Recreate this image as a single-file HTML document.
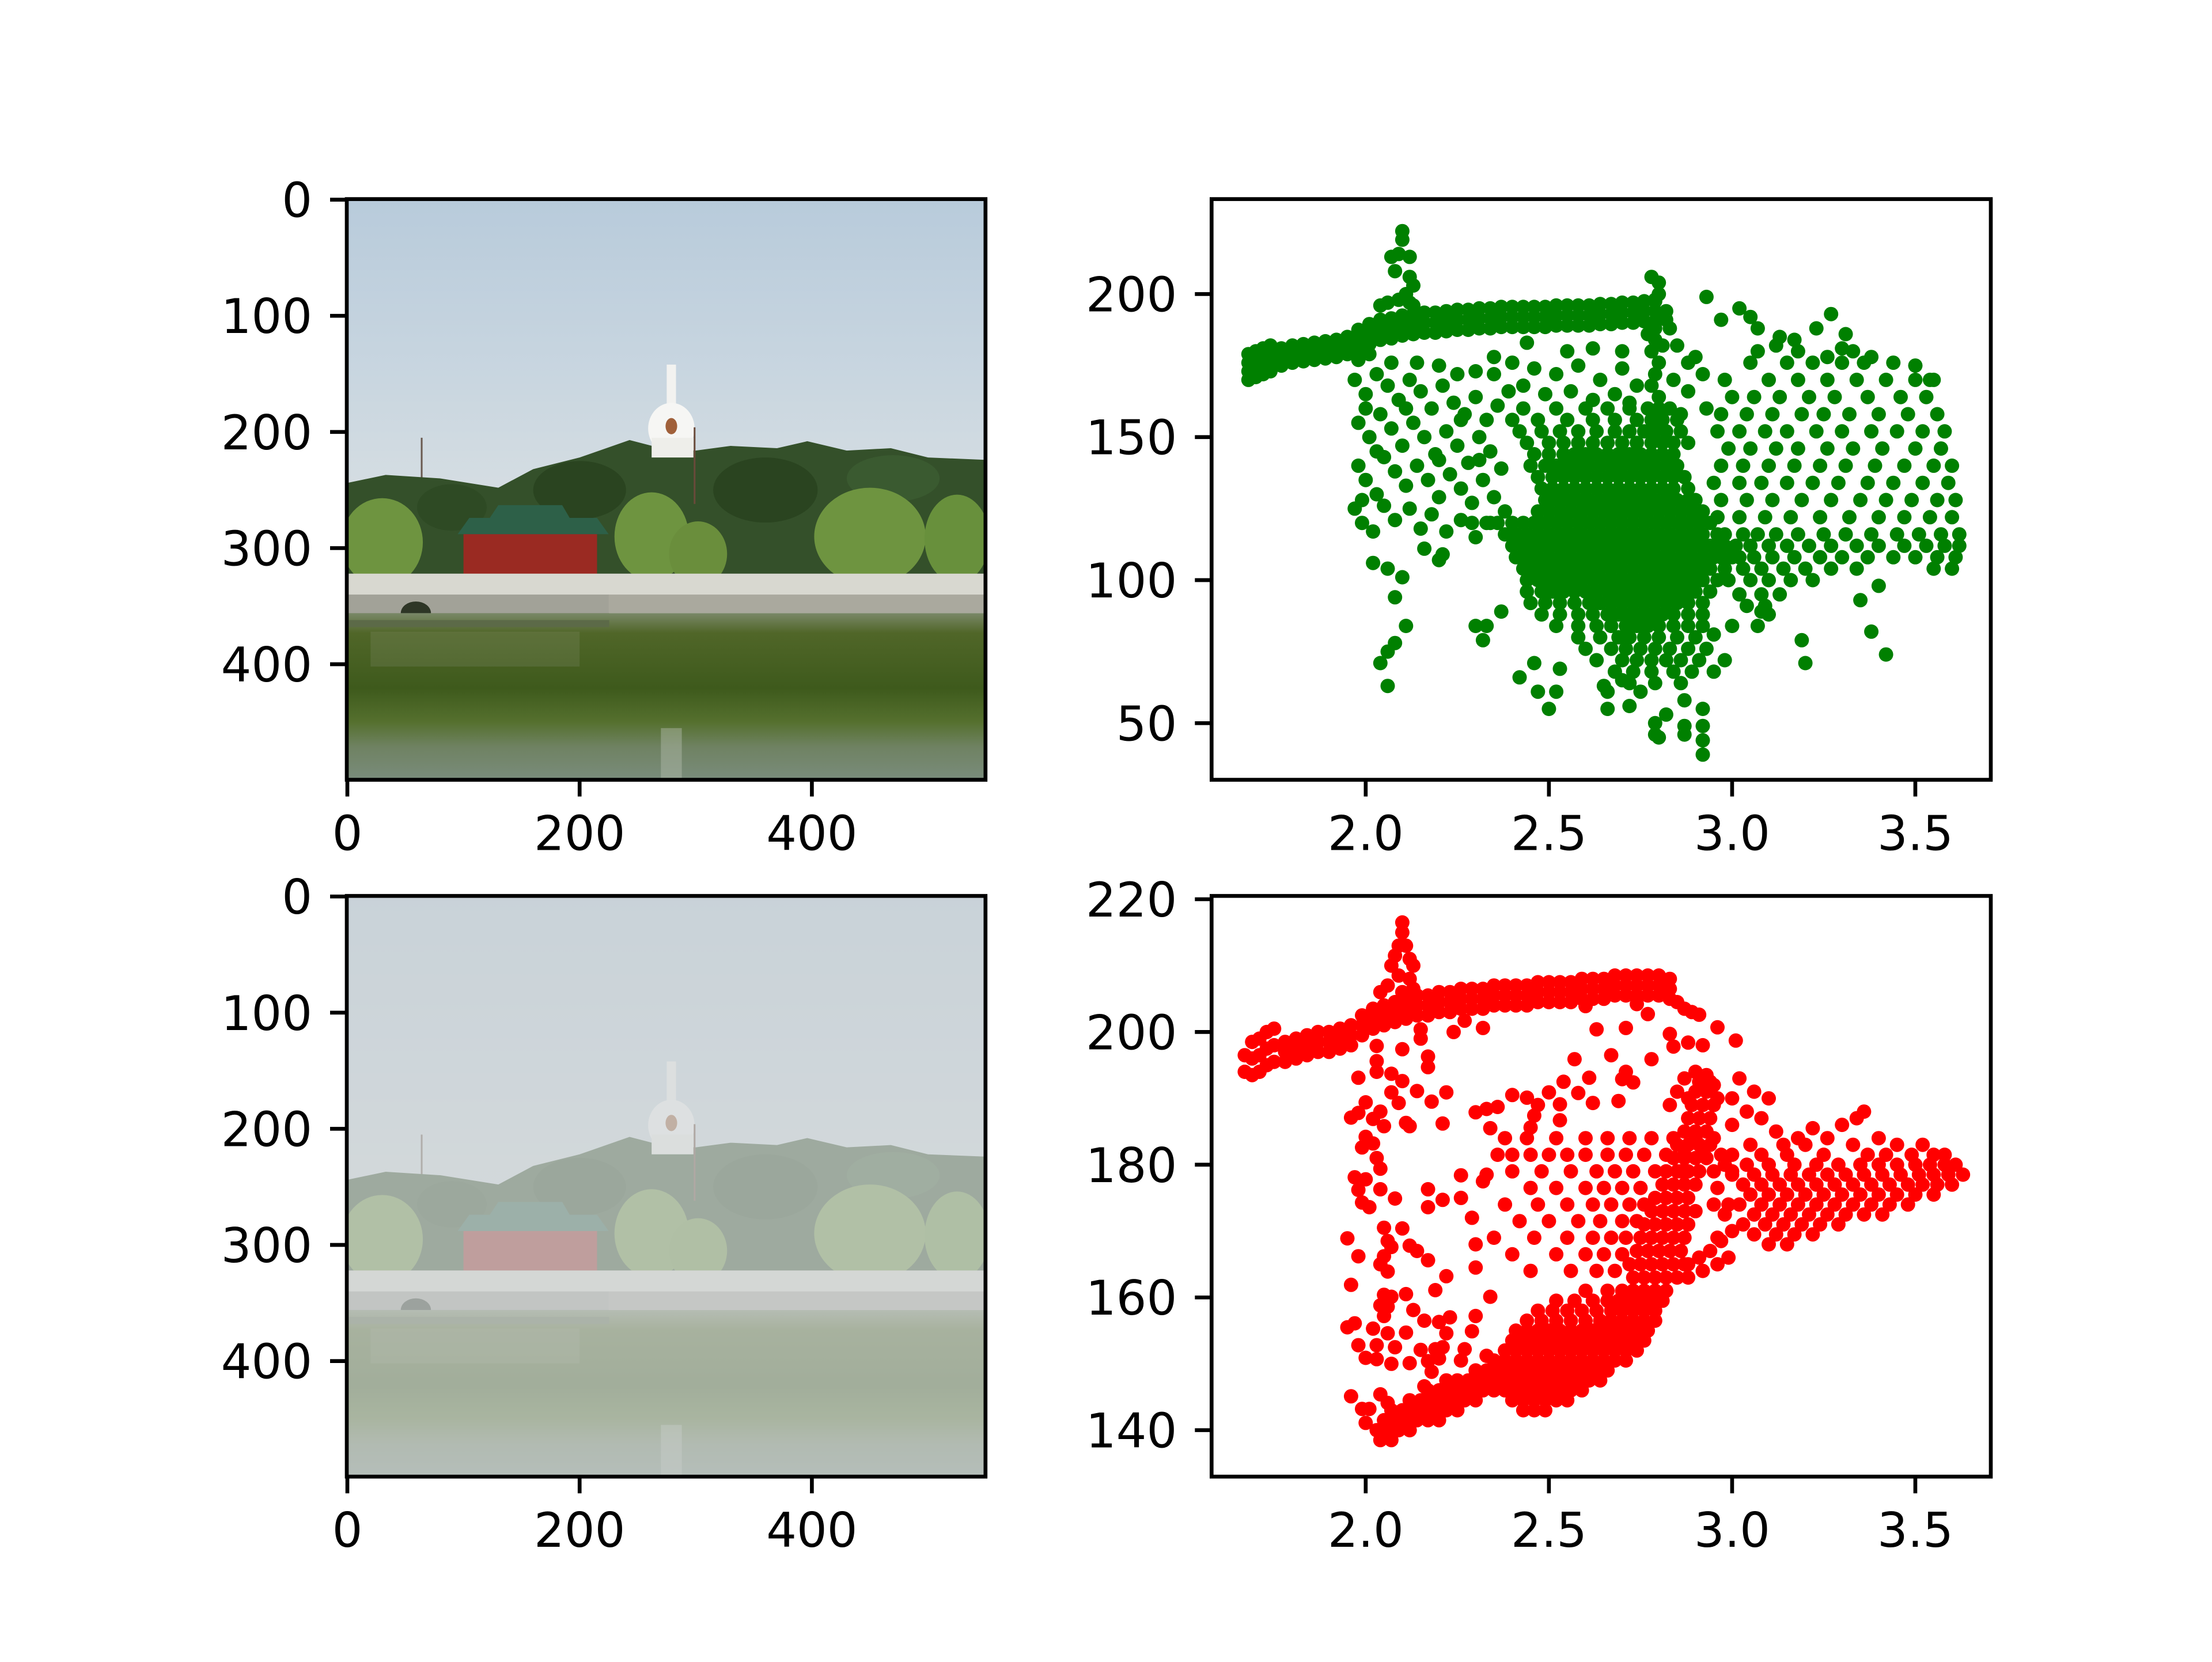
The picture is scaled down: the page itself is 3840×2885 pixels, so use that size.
<!DOCTYPE html>
<html><head><meta charset="utf-8">
<style>
html,body{margin:0;padding:0;background:#fff;}
svg text{font-family:"DejaVu Sans","Liberation Sans",sans-serif;font-size:83px;fill:#000;}
</style></head>
<body>
<svg id="fig" xmlns="http://www.w3.org/2000/svg" width="3840" height="2880" viewBox="0 0 3840 2880">
<rect width="3840" height="2880" fill="#fff"/>
<defs>
<linearGradient id="sky" x1="0" y1="0" x2="0" y2="1">
<stop offset="0" stop-color="#b8cbdb"/><stop offset="0.6" stop-color="#c9d6e0"/><stop offset="1" stop-color="#d6dee2"/>
</linearGradient>
<linearGradient id="water" x1="0" y1="356" x2="0" y2="500" gradientUnits="userSpaceOnUse">
<stop offset="0" stop-color="#7a8868"/><stop offset="0.12" stop-color="#506628"/><stop offset="0.45" stop-color="#3e5a1c"/><stop offset="0.65" stop-color="#55702e"/><stop offset="0.8" stop-color="#6f8262"/><stop offset="1" stop-color="#7a8c7c"/>
</linearGradient>
<g id="photo">
<rect x="-0.5" y="-0.5" width="550" height="260" fill="url(#sky)"/>
<line x1="64" y1="205" x2="64" y2="250" stroke="#6a5a50" stroke-width="1.5"/>
<polygon points="-0.5,244 33,237 80,240 130,248 160,232 200,222 243,207 270,214 300,216 330,212 370,214 396,208 430,216 468,214 500,222 549.5,224 549.5,330 -0.5,330" fill="#34502a"/>
<ellipse cx="200" cy="250" rx="40" ry="25" fill="#2a4420"/>
<ellipse cx="360" cy="250" rx="45" ry="28" fill="#2a4420"/>
<ellipse cx="470" cy="240" rx="40" ry="20" fill="#3a5a30"/>
<ellipse cx="90" cy="265" rx="30" ry="20" fill="#2e4a24"/>
<ellipse cx="30" cy="295" rx="35" ry="38" fill="#6e9440"/>
<ellipse cx="262" cy="290" rx="32" ry="38" fill="#6e9440"/>
<ellipse cx="302" cy="305" rx="25" ry="28" fill="#6a8e3c"/>
<ellipse cx="450" cy="290" rx="48" ry="42" fill="#6e9440"/>
<ellipse cx="525" cy="292" rx="28" ry="38" fill="#68903c"/>
<rect x="275" y="142" width="8" height="34" fill="#f2f2f0"/>
<ellipse cx="279" cy="197" rx="20" ry="22" fill="#f6f6f4"/>
<rect x="262" y="205" width="36" height="17" fill="#eeeeea"/>
<ellipse cx="279" cy="195" rx="5" ry="7" fill="#a0603a"/>
<line x1="299" y1="196" x2="299" y2="262" stroke="#6a4a3a" stroke-width="1.5"/>
<rect x="100" y="285" width="115" height="42" fill="#9a2a22"/>
<polygon points="95,288 225,288 215,274 105,274" fill="#2d6048"/>
<polygon points="122,275 192,275 185,263 130,263" fill="#2d6048"/>
<rect x="-0.5" y="322" width="550" height="18" fill="#d8d8d0"/>
<rect x="-0.5" y="340" width="226" height="22" fill="#a2a298"/>
<rect x="225" y="340" width="325" height="16" fill="#aaa99e"/>
<ellipse cx="59" cy="356" rx="13" ry="10" fill="#2e3626"/>
<rect x="-0.5" y="356" width="550" height="144" fill="url(#water)"/>
<rect x="-0.5" y="362" width="226" height="6" fill="#5c6a48"/>
<rect x="270" y="455" width="18" height="45" fill="#b4bcae" opacity="0.45"/>
<rect x="20" y="372" width="180" height="30" fill="#9aa088" opacity="0.18"/>
</g>
</defs>

<g>
<svg x="602" y="345.6" width="1108.8" height="1008" viewBox="-0.5 -0.5 550 500" preserveAspectRatio="none"><use href="#photo"/></svg>
</g>
<g>
<svg x="602" y="1555.2" width="1108.8" height="1008" viewBox="-0.5 -0.5 550 500" preserveAspectRatio="none"><use href="#photo"/><rect x="-0.5" y="-0.5" width="550" height="500" fill="#d2d5d7" opacity="0.68"/></svg>
</g>
<g id="layer"></g>
</svg>
<script>
// ---------- data ----------
const imgXTicks = [0, 200, 400];
const imgYTicks = [0, 100, 200, 300, 400];
const scatterXTicks = [2.0, 2.5, 3.0, 3.5];
const scatterXTickLabels = ["2.0", "2.5", "3.0", "3.5"];
const greenYTicks = [50, 100, 150, 200];
const redYTicks = [140, 160, 180, 200, 220];

const greenPoints = [
[1.68,170],[1.68,173],[1.68,176],[1.68,179],[1.70,171],[1.70,174],[1.70,177],[1.70,180],[1.72,172],[1.72,175],[1.72,178],[1.72,181],[1.74,173],[1.74,176],[1.74,179],[1.74,182],
[1.77,175],[1.77,178],[1.77,181],[1.80,176],[1.80,179],[1.80,182],[1.83,176.5],[1.83,179.5],[1.83,182.5],[1.86,177],[1.86,180],[1.86,183],[1.89,177.5],[1.89,180.5],[1.89,183.5],
[1.92,178],[1.92,181],[1.92,184],[1.95,179],[1.95,182],[1.95,185],[1.98,180.5],[1.98,184],[1.98,187.5],[1.98,177],[2.01,182.5],[2.01,186],[2.01,189.5],[2.01,179],
[2.04,184],[2.04,187.5],[2.04,191],[2.07,184.5],[2.07,188],[2.07,191.5],[2.10,185.5],[2.10,189],[2.10,192.5],[2.13,186],[2.13,189.5],[2.13,193],
[2.16,186.5],[2.16,190],[2.16,193.5],[2.19,186.5],[2.19,190],[2.19,193.5],[2.22,187],[2.22,190.5],[2.22,194],[2.25,187.5],[2.25,191],[2.25,194.5],
[2.28,187.5],[2.28,191],[2.28,194.5],[2.31,188],[2.31,191.5],[2.31,195],[2.34,188],[2.34,191.5],[2.34,195],[2.37,188.5],[2.37,192],[2.37,195.5],
[2.40,188.5],[2.40,192],[2.40,195.5],[2.43,188.5],[2.43,192],[2.43,195.5],[2.46,188.5],[2.46,192],[2.46,195.5],[2.49,188.5],[2.49,192],[2.49,195.5],
[2.52,189],[2.52,192.5],[2.52,196],[2.55,189],[2.55,192.5],[2.55,196],[2.58,189],[2.58,192.5],[2.58,196],[2.61,189],[2.61,192.5],[2.61,196],
[2.64,189.5],[2.64,193],[2.64,196.5],[2.67,189.5],[2.67,193],[2.67,196.5],[2.70,190],[2.70,193.5],[2.70,197],[2.73,190],[2.73,193.5],[2.73,197],
[2.76,190.5],[2.76,194],[2.76,197.5],[2.79,190.5],[2.79,194],[2.79,197.5],[2.82,191],[2.82,194],
[2.10,222],[2.10,219],[2.09,214],[2.12,213],[2.07,213],[2.08,208],[2.12,206],[2.13,203],[2.11,200],[2.09,198],[2.06,197],[2.04,196],[2.12,197],[2.13,196],
[2.78,206],[2.80,204],[2.80,200],[2.79,198],
[2.79,188],[2.79,184],[2.78,180],[2.80,176],[2.79,172],[2.78,168],[2.80,164],[2.77,186],[2.81,182],
[2.35,178],[2.40,176],[2.46,174],[2.52,172],[2.58,175],[2.64,170],[2.70,174],[2.74,168],[2.43,168],[2.49,165],[2.56,166],[2.62,163],[2.68,165],[2.72,162],[2.44,183],[2.55,180],[2.62,181],[2.70,180],
[2.83,188],[2.85,182],[2.88,176],[2.90,178],[2.92,172],[2.84,170],[2.88,166],[2.93,160],[2.86,158],
[2.43,160],[2.52,160],[2.60,160],[2.66,160],[2.72,160],[2.77,160],[2.80,160],[2.83,160],
[2.40,156],[2.47,156],[2.55,156],[2.62,156],[2.68,156],[2.74,156],[2.78,156],[2.81,156],[2.85,156],
[2.42,152],[2.48,152],[2.53,152],[2.58,152],[2.63,152],[2.68,152],[2.72,152],[2.76,152],[2.79,152],[2.82,152],[2.86,152],
[2.44,148],[2.50,148],[2.54,148],[2.58,148],[2.62,148],[2.66,148],[2.70,148],[2.74,148],[2.78,148],[2.81,148],[2.84,148],[2.88,148],
[2.46,144],[2.50,144],[2.54,144],[2.57,144],[2.60,144],[2.63,144],[2.66,144],[2.69,144],[2.72,144],[2.75,144],[2.78,144],[2.81,144],[2.84,144],
[2.45,140],[2.49,140],[2.52,140],[2.55,140],[2.58,140],[2.61,140],[2.64,140],[2.67,140],[2.70,140],[2.73,140],[2.76,140],[2.79,140],[2.82,140],[2.85,140],
[2.47,136],[2.51,136],[2.54,136],[2.57,136],[2.60,136],[2.63,136],[2.66,136],[2.69,136],[2.72,136],[2.75,136],[2.78,136],[2.81,136],[2.84,136],[2.87,136],
[2.48,132],[2.51,132],[2.54,132],[2.57,132],[2.60,132],[2.63,132],[2.66,132],[2.69,132],[2.72,132],[2.75,132],[2.78,132],[2.81,132],[2.84,132],[2.88,132],
[2.49,128],[2.52,128],[2.55,128],[2.58,128],[2.61,128],[2.64,128],[2.67,128],[2.70,128],[2.73,128],[2.76,128],[2.79,128],[2.82,128],[2.85,128],[2.88,128],[2.90,128],
[2.47,124],[2.50,124],[2.53,124],[2.56,124],[2.59,124],[2.62,124],[2.65,124],[2.68,124],[2.71,124],[2.74,124],[2.77,124],[2.80,124],[2.83,124],[2.86,124],[2.89,124],[2.92,124],
[2.36,120],[2.40,120],[2.43,120],[2.46,120],[2.49,120],[2.52,120],[2.55,120],[2.58,120],[2.61,120],[2.64,120],[2.67,120],[2.70,120],[2.73,120],[2.76,120],[2.79,120],[2.82,120],[2.85,120],[2.88,120],[2.91,120],[2.94,120],
[2.38,116],[2.41,116],[2.44,116],[2.47,116],[2.50,116],[2.53,116],[2.56,116],[2.59,116],[2.62,116],[2.65,116],[2.68,116],[2.71,116],[2.74,116],[2.77,116],[2.80,116],[2.83,116],[2.86,116],[2.89,116],[2.92,116],[2.96,116],
[2.40,112],[2.43,112],[2.46,112],[2.49,112],[2.52,112],[2.55,112],[2.58,112],[2.61,112],[2.64,112],[2.67,112],[2.70,112],[2.73,112],[2.76,112],[2.79,112],[2.82,112],[2.85,112],[2.88,112],[2.91,112],[2.94,112],[2.98,112],
[2.41,108],[2.44,108],[2.47,108],[2.50,108],[2.53,108],[2.56,108],[2.59,108],[2.62,108],[2.65,108],[2.68,108],[2.71,108],[2.74,108],[2.77,108],[2.80,108],[2.83,108],[2.86,108],[2.89,108],[2.92,108],[2.95,108],[3.00,108],
[2.43,104],[2.46,104],[2.49,104],[2.52,104],[2.55,104],[2.58,104],[2.61,104],[2.64,104],[2.67,104],[2.70,104],[2.73,104],[2.76,104],[2.79,104],[2.82,104],[2.85,104],[2.88,104],[2.91,104],[2.94,104],[2.98,104],
[2.44,100],[2.47,100],[2.50,100],[2.53,100],[2.56,100],[2.59,100],[2.62,100],[2.65,100],[2.68,100],[2.71,100],[2.74,100],[2.77,100],[2.80,100],[2.83,100],[2.86,100],[2.89,100],[2.92,100],[2.96,100],
[2.44,96],[2.48,96],[2.51,96],[2.54,96],[2.57,96],[2.60,96],[2.63,96],[2.66,96],[2.69,96],[2.72,96],[2.75,96],[2.78,96],[2.81,96],[2.84,96],[2.87,96],[2.90,96],[2.94,96],
[2.45,92],[2.49,92],[2.53,92],[2.57,92],[2.61,92],[2.64,92],[2.67,92],[2.70,92],[2.73,92],[2.76,92],[2.79,92],[2.82,92],[2.85,92],[2.88,92],[2.92,92],
[2.48,88],[2.53,88],[2.58,88],[2.62,88],[2.66,88],[2.69,88],[2.72,88],[2.75,88],[2.78,88],[2.81,88],[2.84,88],[2.88,88],[2.92,88],
[2.52,84],[2.58,84],[2.63,84],[2.67,84],[2.71,84],[2.74,84],[2.77,84],[2.80,84],[2.84,84],[2.88,84],[2.92,84],
[2.58,80],[2.64,80],[2.69,80],[2.72,80],[2.76,80],[2.80,80],[2.85,80],[2.90,80],
[2.60,76],[2.67,76],[2.71,76],[2.75,76],[2.79,76],[2.83,76],[2.88,76],[2.93,76],
[2.63,72],[2.70,72],[2.74,72],[2.78,72],[2.82,72],[2.86,72],[2.91,72],
[2.68,68],[2.73,68],[2.78,68],[2.84,68],[2.89,68],[2.72,64],[2.79,64],[2.86,64],
[1.97,170],[2.00,165],[2.03,172],[2.06,168],[2.09,163],[2.12,170],[2.15,166],[2.18,160],[2.21,168],[2.24,162],[2.27,158],[2.30,164],[2.33,156],[2.36,161],[2.39,166],
[1.98,155],[2.01,150],[2.04,158],[2.07,153],[2.10,147],[2.13,155],[2.16,150],[2.19,144],[2.22,152],[2.25,147],[2.28,141],[2.31,150],[2.34,145],[2.37,139],
[1.98,140],[2.00,135],[2.03,130],[2.05,143],[2.08,138],[2.11,133],[2.14,140],[2.17,135],[2.20,129],[2.23,137],[2.26,132],[2.29,127],[2.32,135],[2.35,129],
[1.97,125],[1.99,120],[2.02,117],[2.05,126],[2.08,121],[2.12,125],[2.15,118],[2.18,123],[2.22,117],[2.26,121],[2.30,115],[2.34,120],[2.38,124],
[2.00,160],[2.03,145],[1.99,128],[2.11,160],[2.20,175],[2.25,172],[2.30,173],[2.35,172],[2.14,176],[2.07,176],[2.26,156],[2.20,142],[2.31,142],
[2.02,106],[2.06,104],[2.10,101],[2.08,94],[2.11,84],[2.08,78],[2.06,75],[2.04,71],[2.06,63],[2.16,111],[2.21,109],[2.20,107],[2.29,120],[2.33,120],
[2.30,84],[2.33,84],[2.32,79],[2.37,89],[2.42,66],[2.47,61],[2.50,55],[2.52,61],[2.53,69],[2.46,71],
[2.66,55],[2.66,61],[2.65,63],[2.72,56],[2.79,46],[2.80,45],[2.79,50],[2.87,49],[2.87,46],[2.92,39],[2.92,44],[2.92,49],[2.92,55],[2.82,53],[2.87,58],[2.75,61],[2.70,65],
[2.95,68],[2.98,72],[3.00,84],[2.95,81],[3.07,84],[3.08,89],[3.10,88],[3.19,79],[3.20,71],[3.38,82],[3.42,74],[3.35,93],[3.40,98],
[3.05,176],[3.15,176],[3.22,176],[3.30,176],[3.36,176],[3.44,176],
[2.98,170],[3.10,170],[3.18,170],[3.26,170],[3.34,170],[3.42,170],[3.50,170],[3.55,170],
[3.00,164],[3.06,164],[3.13,164],[3.21,164],[3.28,164],[3.37,164],[3.46,164],[3.53,164],
[2.97,158],[3.04,158],[3.11,158],[3.19,158],[3.25,158],[3.32,158],[3.40,158],[3.48,158],[3.56,158],
[2.96,152],[3.02,152],[3.09,152],[3.15,152],[3.23,152],[3.30,152],[3.38,152],[3.45,152],[3.52,152],[3.58,152],
[2.99,146],[3.05,146],[3.12,146],[3.18,146],[3.26,146],[3.33,146],[3.41,146],[3.50,146],[3.57,146],
[2.97,140],[3.03,140],[3.10,140],[3.17,140],[3.24,140],[3.31,140],[3.39,140],[3.47,140],[3.55,140],[3.60,140],
[2.95,134],[3.02,134],[3.08,134],[3.15,134],[3.22,134],[3.29,134],[3.37,134],[3.44,134],[3.52,134],[3.59,134],
[2.97,128],[3.04,128],[3.11,128],[3.19,128],[3.27,128],[3.35,128],[3.42,128],[3.49,128],[3.56,128],[3.61,128],
[2.96,122],[3.02,122],[3.09,122],[3.16,122],[3.24,122],[3.32,122],[3.40,122],[3.47,122],[3.54,122],[3.60,122],
[2.98,116],[3.03,116],[3.07,116],[3.12,116],[3.18,116],[3.25,116],[3.31,116],[3.38,116],[3.45,116],[3.51,116],[3.57,116],[3.62,116],
[2.96,112],[3.01,112],[3.05,112],[3.10,112],[3.15,112],[3.21,112],[3.27,112],[3.34,112],[3.40,112],[3.47,112],[3.53,112],[3.58,112],[3.62,112],
[2.97,108],[3.02,108],[3.06,108],[3.11,108],[3.17,108],[3.24,108],[3.30,108],[3.37,108],[3.44,108],[3.50,108],[3.56,108],[3.61,108],
[2.98,104],[3.03,104],[3.08,104],[3.14,104],[3.20,104],[3.27,104],[3.34,104],[3.55,104],[3.60,104],
[2.99,100],[3.05,100],[3.10,100],[3.16,100],[3.22,100],[3.02,95],[3.08,95],[3.13,95],[3.04,91],[3.09,91],
[2.93,199],[2.97,191],[3.02,195],[3.05,192],[3.27,193],[3.07,188],[3.13,185],[3.17,184],[3.23,188],[3.31,186],[3.07,180],[3.12,182],[3.18,180],[3.26,178],[3.30,181],[3.33,180],[3.38,178],[3.50,175],[3.54,170]
];

const redPoints = [
[1.67,194],[1.67,196.5],[1.69,193.5],[1.69,196],[1.69,198.5],[1.71,194],[1.71,196.5],[1.71,199],[1.73,195],[1.73,197.5],[1.73,200],[1.75,195.5],[1.75,198],[1.75,200.5],
[1.78,195.5],[1.78,197],[1.78,198.5],[1.81,196],[1.81,197.5],[1.81,199],[1.84,196.5],[1.84,198],[1.84,199.5],[1.87,197],[1.87,198.5],[1.87,200],
[1.90,197],[1.90,198.5],[1.90,200],[1.93,197.5],[1.93,199],[1.93,200.5],[1.96,198],[1.96,199.5],[1.96,201],[1.99,199.5],[1.99,201],[1.99,202.5],
[2.02,200.5],[2.02,202],[2.02,203.5],[2.05,201],[2.05,202.5],[2.05,204],[2.08,201.5],[2.08,203],[2.08,204.5],[2.11,202],[2.11,203.5],[2.11,205],
[2.14,202.5],[2.14,204],[2.14,205.5],[2.17,202.5],[2.17,204],[2.17,205.5],[2.20,203],[2.20,204.5],[2.20,206],[2.23,203],[2.23,204.5],[2.23,206],
[2.26,203.5],[2.26,205],[2.26,206.5],[2.29,203.5],[2.29,205],[2.29,206.5],[2.32,203.5],[2.32,205],[2.32,206.5],[2.35,204],[2.35,205.5],[2.35,207],
[2.38,204],[2.38,205.5],[2.38,207],[2.41,204],[2.41,205.5],[2.41,207],[2.44,204],[2.44,205.5],[2.44,207],[2.47,204.5],[2.47,206],[2.47,207.5],
[2.50,204.5],[2.50,206],[2.50,207.5],[2.53,204.5],[2.53,206],[2.53,207.5],[2.56,204.5],[2.56,206],[2.56,207.5],[2.59,205],[2.59,206.5],[2.59,208],
[2.62,205],[2.62,206.5],[2.62,208],[2.65,205],[2.65,206.5],[2.65,208],[2.68,205.5],[2.68,207],[2.68,208.5],[2.71,205.5],[2.71,207],[2.71,208.5],
[2.74,205.5],[2.74,207],[2.74,208.5],[2.77,205.5],[2.77,207],[2.77,208.5],[2.80,205.5],[2.80,207],[2.80,208.5],[2.83,205],[2.83,206.5],[2.83,208],
[2.10,216.5],[2.10,215],[2.09,213],[2.08,211.5],[2.12,211],[2.11,213],[2.07,210],[2.13,210],[2.09,208.5],[2.12,208],[2.06,207],[2.13,206.5],[2.04,206],[2.10,206],
[2.85,204.5],[2.89,203],[2.91,202.6],[2.96,200.7],[3.01,198.7],[2.88,198.4],[2.92,198],[2.87,203.5],
[2.60,203.9],[2.63,200.4],[2.71,200.6],[2.74,204.2],[2.77,202.7],[2.83,199.7],[2.84,197.8],[2.67,196.5],[2.78,195.9],
[2.15,200.4],[2.15,199],[2.03,197.9],[2.03,195.6],[2.10,197.4],[2.17,196.3],[2.17,194.7],[2.24,200],[2.27,201.7],[2.32,200.6],
[2.03,194],[2.07,193.7],[2.10,192.6],[1.98,193.1],[2.07,190.9],[2.09,189.3],[2.14,191.1],[2.18,189.5],[2.22,190.9],[2.00,189.4],
[1.96,187.1],[1.98,187.8],[2.02,186.9],[2.04,188],[2.05,185.8],[2.11,186.3],[2.12,185.8],[2.21,186.2],[2.00,184.2],[2.02,183.2],[1.99,182.6],[2.03,181],[2.04,179.4],
[1.97,178.1],[2.00,177.8],[1.98,176.2],[1.99,174.3],[2.01,173.6],[2.04,176.3],[2.08,174.9],[2.17,176.3],[2.17,173.6],[2.21,174.7],
[2.05,170.5],[2.10,170.4],[1.95,168.9],[2.06,168.5],[2.07,167.6],[2.12,167.8],[2.14,167],[2.17,165.6],[1.98,166.2],[2.05,166.2],[2.04,165],[2.06,163.9],[2.22,163.2],
[1.96,161.9],[2.05,160.4],[2.07,160.1],[2.11,160.5],[2.04,158.8],[2.06,158.6],[2.05,157.2],[2.13,158.1],[2.16,156.5],[2.19,161.1],[2.20,156.3],[2.23,157],
[1.95,155.5],[1.97,156.1],[2.02,155.3],[2.06,154.6],[2.11,154.7],[2.22,154.6],[1.98,152.8],[2.03,152.8],[2.08,152.5],[2.19,152.2],[2.21,152.5],[2.15,152.1],
[2.00,150.9],[2.03,150.7],[2.07,150],[2.12,150.1],[2.17,150.4],[2.20,150.8],[2.18,148.8],[2.27,152.2],[2.30,157.2],[2.29,154.9],[2.33,151.2],
[1.96,145.1],[1.99,143.2],[2.01,143.2],[2.00,141.1],[2.04,145.4],[2.06,144.1],[2.16,146.6],[2.26,150.5],
[2.30,187.9],[2.33,188.4],[2.36,188.7],[2.34,185.5],[2.40,190.5],[2.44,190.1],[2.47,189],[2.50,190.9],[2.53,189.1],[2.54,192.5],[2.57,195.9],[2.58,190.8],[2.61,193.1],[2.62,189.3],
[2.46,187.4],[2.45,185.6],[2.53,186.7],[2.33,178.5],[2.26,178.4],[2.32,177.5],[2.26,175],[2.29,172],[2.30,168],[2.30,164.5],[2.34,160.1],[2.70,192.9],[2.71,194],[2.73,192.4],[2.69,189.6],
[2.04,138.5],[2.07,138.5],[2.03,140],[2.06,140],[2.09,140],[2.12,140],
[2.05,141.5],[2.08,141.5],[2.11,141.5],[2.14,141.5],[2.17,141.5],[2.20,141.5],
[2.07,143],[2.10,143],[2.13,143],[2.16,143],[2.19,143],[2.22,143],[2.25,143],[2.43,143],[2.46,143],[2.49,143],
[2.12,144.5],[2.15,144.5],[2.18,144.5],[2.21,144.5],[2.24,144.5],[2.27,144.5],[2.30,144.5],[2.40,144.5],[2.43,144.5],[2.46,144.5],[2.49,144.5],[2.52,144.5],[2.55,144.5],
[2.17,146],[2.20,146],[2.23,146],[2.26,146],[2.29,146],[2.32,146],[2.35,146],[2.38,146],[2.41,146],[2.44,146],[2.47,146],[2.50,146],[2.53,146],[2.56,146],[2.59,146],
[2.22,147.5],[2.25,147.5],[2.28,147.5],[2.31,147.5],[2.34,147.5],[2.37,147.5],[2.40,147.5],[2.43,147.5],[2.46,147.5],[2.49,147.5],[2.52,147.5],[2.55,147.5],[2.58,147.5],[2.61,147.5],[2.64,147.5],
[2.30,149],[2.33,149],[2.36,149],[2.39,149],[2.42,149],[2.45,149],[2.48,149],[2.51,149],[2.54,149],[2.57,149],[2.60,149],[2.63,149],[2.66,149],
[2.35,150.5],[2.38,150.5],[2.41,150.5],[2.44,150.5],[2.47,150.5],[2.50,150.5],[2.53,150.5],[2.56,150.5],[2.59,150.5],[2.62,150.5],[2.65,150.5],[2.68,150.5],[2.71,150.5],
[2.38,152],[2.41,152],[2.44,152],[2.47,152],[2.50,152],[2.53,152],[2.56,152],[2.59,152],[2.62,152],[2.65,152],[2.68,152],[2.71,152],[2.74,152],
[2.40,153.5],[2.43,153.5],[2.46,153.5],[2.49,153.5],[2.52,153.5],[2.55,153.5],[2.58,153.5],[2.61,153.5],[2.64,153.5],[2.67,153.5],[2.70,153.5],[2.73,153.5],[2.76,153.5],
[2.41,155],[2.44,155],[2.47,155],[2.50,155],[2.53,155],[2.56,155],[2.59,155],[2.62,155],[2.65,155],[2.68,155],[2.71,155],[2.74,155],[2.77,155],
[2.44,156.5],[2.48,156.5],[2.52,156.5],[2.56,156.5],[2.60,156.5],[2.64,156.5],[2.67,156.5],[2.70,156.5],[2.73,156.5],[2.76,156.5],[2.79,156.5],
[2.47,158],[2.51,158],[2.55,158],[2.59,158],[2.63,158],[2.67,158],[2.70,158],[2.73,158],[2.76,158],[2.79,158],
[2.52,159.5],[2.57,159.5],[2.62,159.5],[2.66,159.5],[2.69,159.5],[2.72,159.5],[2.75,159.5],[2.78,159.5],[2.81,159.5],
[2.60,161],[2.66,161],[2.70,161],[2.73,161],[2.76,161],[2.79,161],[2.82,161],
[2.73,163],[2.76,163],[2.79,163],[2.82,163],[2.85,163],[2.88,163],[2.72,165],[2.75,165],[2.78,165],[2.81,165],[2.84,165],[2.87,165],
[2.74,167],[2.77,167],[2.80,167],[2.83,167],[2.86,167],[2.75,169],[2.78,169],[2.81,169],[2.84,169],[2.87,169],
[2.76,171],[2.79,171],[2.82,171],[2.85,171],[2.88,171],[2.78,173],[2.81,173],[2.84,173],[2.87,173],[2.90,173],
[2.79,175],[2.82,175],[2.85,175],[2.88,175],[2.81,177],[2.84,177],[2.87,177],[2.90,177],[2.82,179],[2.85,179],[2.88,179],[2.91,179],
[2.84,181],[2.87,181],[2.90,181],[2.93,181],[2.85,183],[2.88,183],[2.91,183],[2.94,183],[2.87,185],[2.90,185],[2.93,185],
[2.88,187],[2.91,187],[2.94,187],[2.89,189],[2.92,189],[2.95,189],[2.90,191],[2.93,191],[2.91,192.5],[2.94,192.5],
[2.88,165],[2.91,166],[2.94,167],[2.97,168.5],[3.00,170],[2.96,165],[2.92,164],[2.99,166],
[2.38,184],[2.44,184],[2.52,184],[2.60,184],[2.66,184],[2.72,184],[2.78,184],[2.84,184],[2.90,184],[2.95,184],
[2.36,181.5],[2.40,181.5],[2.45,181.5],[2.50,181.5],[2.55,181.5],[2.60,181.5],[2.66,181.5],[2.71,181.5],[2.76,181.5],[2.82,181.5],[2.87,181.5],[2.92,181.5],[2.97,181.5],
[2.40,179],[2.48,179],[2.56,179],[2.63,179],[2.68,179],[2.73,179],[2.79,179],[2.86,179],[2.95,179],[3.00,179],
[2.45,176.5],[2.52,176.5],[2.60,176.5],[2.65,176.5],[2.70,176.5],[2.75,176.5],[2.96,176.5],
[2.38,174],[2.47,174],[2.55,174],[2.62,174],[2.67,174],[2.72,174],[2.76,174],[2.95,174],[2.99,174],
[2.42,171.5],[2.50,171.5],[2.58,171.5],[2.64,171.5],[2.70,171.5],[2.74,171.5],
[2.35,169],[2.46,169],[2.55,169],[2.62,169],[2.67,169],[2.71,169],[2.96,169],
[2.40,166.5],[2.52,166.5],[2.60,166.5],[2.65,166.5],[2.70,166.5],[2.45,164],[2.56,164],[2.63,164],[2.68,164],
[2.87,193],[2.90,194],[2.93,193.5],[2.95,192],[2.96,190],[2.85,191],[2.83,189],[2.88,190],
[3.05,183],[3.20,183],[3.33,183],[3.45,183],[3.52,183],
[3.00,181.5],[3.08,181.5],[3.15,181.5],[3.25,181.5],[3.37,181.5],[3.42,181.5],[3.49,181.5],[3.55,181.5],[3.58,181.5],
[2.98,180],[3.04,180],[3.10,180],[3.17,180],[3.23,180],[3.29,180],[3.35,180],[3.40,180],[3.45,180],[3.50,180],[3.54,180],[3.58,180],[3.61,180],
[3.00,178.5],[3.06,178.5],[3.11,178.5],[3.16,178.5],[3.21,178.5],[3.26,178.5],[3.31,178.5],[3.36,178.5],[3.41,178.5],[3.46,178.5],[3.51,178.5],[3.55,178.5],[3.59,178.5],[3.63,178.5],
[3.03,177],[3.08,177],[3.13,177],[3.18,177],[3.23,177],[3.28,177],[3.33,177],[3.38,177],[3.43,177],[3.48,177],[3.52,177],[3.56,177],[3.60,177],
[3.05,175.5],[3.10,175.5],[3.15,175.5],[3.20,175.5],[3.25,175.5],[3.30,175.5],[3.35,175.5],[3.40,175.5],[3.45,175.5],[3.50,175.5],[3.55,175.5],
[3.02,174],[3.08,174],[3.13,174],[3.18,174],[3.23,174],[3.28,174],[3.33,174],[3.38,174],[3.43,174],[3.48,174],
[2.98,172.5],[3.06,172.5],[3.11,172.5],[3.16,172.5],[3.21,172.5],[3.26,172.5],[3.31,172.5],[3.36,172.5],[3.41,172.5],
[3.03,171],[3.09,171],[3.14,171],[3.19,171],[3.24,171],[3.29,171],[3.06,169.5],[3.12,169.5],[3.17,169.5],[3.22,169.5],[3.10,168],[3.15,168],
[3.00,186],[3.04,188],[3.08,187],[3.12,185],[3.18,184],[3.22,185.5],[3.30,186],[3.34,187],[3.36,188],[3.26,184],[3.14,183],[3.40,184],[3.06,191],[3.02,193],[3.10,190],[3.00,190]
];

// ---------- layout ----------
const NS = "http://www.w3.org/2000/svg";
const layer = document.getElementById("layer");
const SPINE = 6.67, TICK = 29;
const imgAxes = [
  {name:"original", x0:602, y0:345.6},
  {name:"hazy", x0:602, y0:1555.2}
];
const IMG_W = 1108.8, IMG_H = 1008, IMG_SCALE = 1108.8/550;
const scatAxes = [
  {name:"green", x0:2103.3, y0:345.6, ymin:30.2, ymax:233.2, pts:greenPoints, yticks:greenYTicks, color:"#008000"},
  {name:"red", x0:2103.3, y0:1555.2, ymin:133.0, ymax:220.5, pts:redPoints, yticks:redYTicks, color:"#ff0000"}
];
const SC_W = 1352.7, SC_H = 1008, XMIN = 1.5794, XMAX = 3.706;

function mk(tag, attrs){ const e=document.createElementNS(NS,tag); for(const k in attrs) e.setAttribute(k, attrs[k]); return e; }

function frame(g, x0, y0, w, h){
  const r = mk("rect",{x:x0,y:y0,width:w,height:h,fill:"none",stroke:"#000","stroke-width":SPINE});
  
  
  g.appendChild(r);
}
function xtick(g, px, yb, label){
  const l = mk("line",{x1:px,y1:yb,x2:px,y2:yb+TICK,stroke:"#000","stroke-width":SPINE});
  
  
  g.appendChild(l);
  const t = mk("text",{x:px,y:yb+122,"text-anchor":"middle"});
  t.textContent = label;
  
  
  g.appendChild(t);
}
function ytick(g, xl, py, label){
  const l = mk("line",{x1:xl-TICK,y1:py,x2:xl,y2:py,stroke:"#000","stroke-width":SPINE});
  
  
  g.appendChild(l);
  const t = mk("text",{x:xl-TICK-31,y:py+30,"text-anchor":"end"});
  t.textContent = label;
  
  
  g.appendChild(t);
}

imgAxes.forEach(a=>{
  const g = mk("g",{});
  
  
  frame(g, a.x0, a.y0, IMG_W, IMG_H);
  imgXTicks.forEach(v=> xtick(g, a.x0 + (v+0.5)*IMG_SCALE, a.y0+IMG_H, String(v)));
  imgYTicks.forEach(v=> ytick(g, a.x0, a.y0 + (v+0.5)*IMG_SCALE, String(v)));
  layer.appendChild(g);
});

scatAxes.forEach(a=>{
  const g = mk("g",{});
  
  
  const sx = v => a.x0 + (v-XMIN)/(XMAX-XMIN)*SC_W;
  const sy = v => a.y0 + (a.ymax - v)/(a.ymax-a.ymin)*SC_H;
  const pg = mk("g",{fill:a.color});
  
  
  a.pts.forEach(p=>{
    const c = mk("circle",{cx:sx(p[0]).toFixed(1), cy:sy(p[1]).toFixed(1), r:12.5});
    
    
    pg.appendChild(c);
  });
  g.appendChild(pg);
  frame(g, a.x0, a.y0, SC_W, SC_H);
  scatterXTicks.forEach((v,i)=> xtick(g, sx(v), a.y0+SC_H, scatterXTickLabels[i]));
  a.yticks.forEach(v=> ytick(g, a.x0, sy(v), String(v)));
  layer.appendChild(g);
});
</script>
</body></html>
